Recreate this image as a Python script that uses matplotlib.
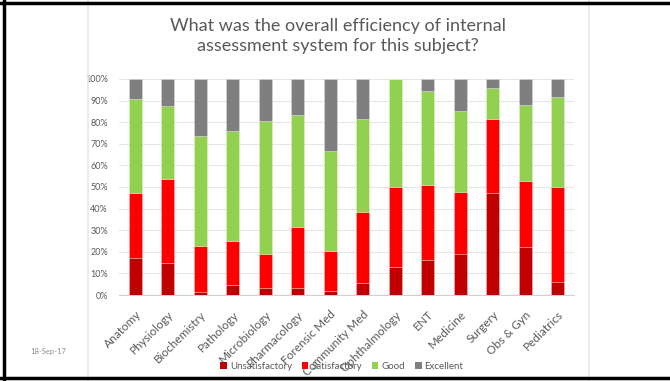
import numpy as np
import matplotlib.pyplot as plt
from matplotlib.patches import Patch
from matplotlib.lines import Line2D

plt.rcParams['font.family'] = ['Lato', 'DejaVu Sans']

subjects = ['Anatomy', 'Physiology', 'Biochemistry', 'Pathology', 'Microbiology',
            'Pharmacology', 'Forensic Med', 'Community Med', 'Ophthalmology', 'ENT',
            'Medicine', 'Surgery', 'Obs & Gyn', 'Pediatrics']

# percentages per rating, each row of subjects sums to 100
unsatisfactory = [17.0, 14.7, 1.2, 4.5, 3.1, 3.1, 1.7, 5.4, 12.8, 16.4, 18.9, 47.0, 22.4, 6.2]
satisfactory = [30.4, 39.2, 21.7, 20.7, 16.1, 28.6, 18.9, 33.2, 37.0, 34.5, 28.9, 34.6, 30.6, 43.6]
good = [43.5, 33.7, 50.5, 50.8, 61.5, 51.6, 46.2, 43.0, 50.2, 43.7, 37.5, 14.4, 34.8, 42.0]
excellent = [9.1, 12.4, 26.6, 24.0, 19.3, 16.7, 33.2, 18.4, 0.0, 5.4, 14.7, 4.0, 12.2, 8.2]

series = [('Unsatisfactory', unsatisfactory, '#C00000'),
          ('Satisfactory', satisfactory, '#FF0000'),
          ('Good', good, '#92D050'),
          ('Excellent', excellent, '#7F7F7F')]

fig = plt.figure(figsize=(6.7, 3.81), dpi=100)
ax = fig.add_axes([0.1776, 0.2257, 0.679, 0.567])

x = np.arange(len(subjects))
bottom = np.zeros(len(subjects))
for name, vals, col in series:
    vals = np.array(vals)
    ax.bar(x, vals, 0.4, bottom=bottom, color=col, edgecolor=(1, 1, 1, 0.35),
           linewidth=0.5, zorder=3, label=name)
    bottom += vals

ax.set_xlim(-0.5, len(subjects) - 0.5)
ax.set_ylim(0, 100)
ax.set_yticks(np.arange(0, 101, 10))
ax.set_yticklabels(['%d%%' % v for v in range(0, 101, 10)], fontsize=6.5, color='#595959')
ax.yaxis.grid(True, color='#E6E6E6', linewidth=0.8, zorder=0)
ax.tick_params(axis='both', length=0)
ax.tick_params(axis='y', pad=8)
for s in ['top', 'right', 'left']:
    ax.spines[s].set_visible(False)
ax.spines['bottom'].set_color('#D0D0D0')

ax.set_xticks(x)
ax.set_xticklabels(subjects, rotation=45, ha='right', va='top', rotation_mode='anchor',
                   fontsize=8.5, color='#595959')
ax.tick_params(axis='x', pad=10)

fig.text(0.505, 0.905, 'What was the overall efficiency of internal\nassessment system for this subject?',
         ha='center', va='center', fontsize=13, color='#595959', linespacing=1.35)

handles = [Patch(facecolor=c, edgecolor='none', label=n) for n, _, c in series]
fig.legend(handles=handles, loc='center', bbox_to_anchor=(0.51, 0.038), ncol=4,
           frameon=False, fontsize=7, handlelength=0.7, handleheight=0.7,
           handletextpad=0.3, columnspacing=1.0, labelcolor='#595959')

fig.text(0.045, 0.07, '18-Sep-17', fontsize=5.5, color='#8C8C8C')

# chart area edges and slide frame
for xx in [0.131, 0.879]:
    fig.add_artist(Line2D([xx, xx], [0.0, 1.0], color='#E8E8E8', linewidth=1.2))
fig.add_artist(Line2D([0.0, 1.0], [0.992, 0.992], color='black', linewidth=2.5))
fig.add_artist(Line2D([0.0, 1.0], [0.009, 0.009], color='black', linewidth=2.5))
fig.add_artist(Line2D([0.006, 0.006], [0.0, 1.0], color='black', linewidth=2.5))

fig.savefig('out.png', dpi=100)
